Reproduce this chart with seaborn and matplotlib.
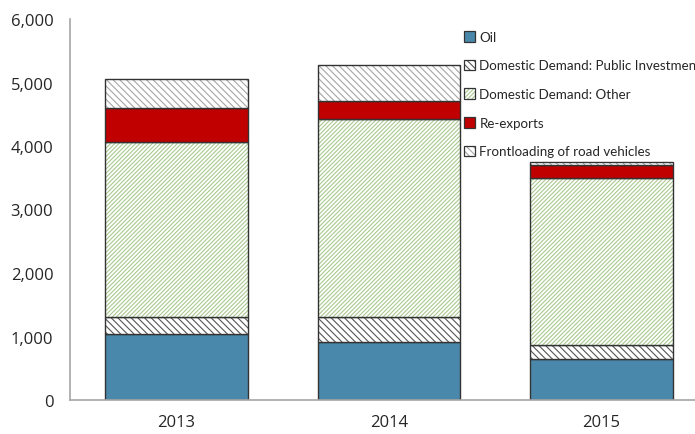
import numpy as np
import pandas as pd
import matplotlib
matplotlib.use("Agg")
import matplotlib.pyplot as plt
import seaborn as sns
from matplotlib.ticker import FuncFormatter

years = ["2013", "2014", "2015"]
oil = [1040, 913, 646]
public_inv = [267, 394, 220]
dd_other = [2756, 3118, 2630]
re_exports = [535, 284, 205]
frontloading = [457, 567, 47]

series = [
    ("Oil", oil, "#4a88ab", "", "#4a88ab"),
    ("Domestic Demand: Public Investment", public_inv, "white", "\\\\\\\\\\", "#555555"),
    ("Domestic Demand: Other", dd_other, "white", "////////", "#a9c98f"),
    ("Re-exports", re_exports, "#c00000", "", "#c00000"),
    ("Frontloading of road vehicles", frontloading, "white", "\\\\\\\\\\", "#a6a6a6"),
]

sns.set_style("white")
plt.rcParams["font.family"] = ["Open Sans", "DejaVu Sans"]
plt.rcParams["hatch.linewidth"] = 0.8

fig = plt.figure(figsize=(6.95, 4.35), dpi=100)
ax = fig.add_axes([70 / 695, 34 / 435, 625 / 695, 381 / 435])

bottom = np.zeros(len(years))
handles = []
labels = []
for name, vals, face, hatch, hcol in series:
    # hatch layer (colour of the hatch lines)
    sns.barplot(x=years, y=vals, bottom=bottom, ax=ax, color=face, width=0.67,
                hatch=hatch, edgecolor=hcol, linewidth=0, saturation=1)
    # outline layer
    sns.barplot(x=years, y=vals, bottom=bottom, ax=ax, color="#333333", fill=False,
                width=0.67, linewidth=1.0)
    h1 = matplotlib.patches.Patch(facecolor=face, hatch=hatch, edgecolor=hcol, linewidth=0)
    h2 = matplotlib.patches.Patch(facecolor="none", edgecolor="#333333", linewidth=0.9)
    handles.append((h1, h2))
    labels.append(name)
    bottom = bottom + np.array(vals)

ax.set_xlim(-0.5, 2.44)
ax.set_ylim(0, 6000)
ax.set_yticks(range(0, 6001, 1000))
ax.yaxis.set_major_formatter(FuncFormatter(lambda v, p: f"{int(v):,}"))
ax.tick_params(axis="y", direction="in", length=4, color="#a6a6a6", labelsize=12, pad=12)
ax.tick_params(axis="x", length=0, labelsize=12, pad=10)
for s in ["top", "right"]:
    ax.spines[s].set_visible(False)
for s in ["left", "bottom"]:
    ax.spines[s].set_color("#a6a6a6")
    ax.spines[s].set_linewidth(1.2)
ax.set_xlabel("")
ax.set_ylabel("")

leg = ax.legend(handles, labels, loc="upper left", bbox_to_anchor=(0.622, 0.983),
                frameon=False, prop={"family": "Lato", "size": 9.6},
                handlelength=0.85, handleheight=0.85,
                handletextpad=0.3, labelspacing=1.25, borderaxespad=0)

fig.savefig("out.png", dpi=100)
